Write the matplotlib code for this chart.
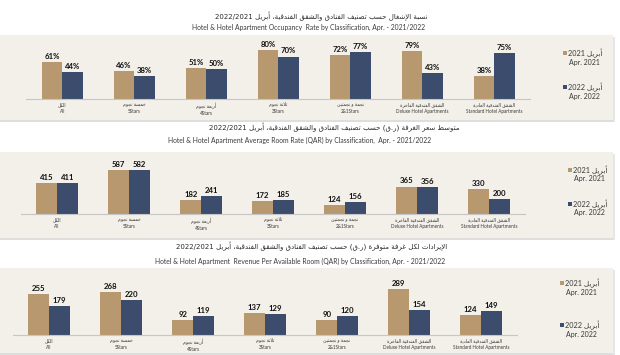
import re
import matplotlib
matplotlib.use("Agg")
import matplotlib.pyplot as plt
from matplotlib.patches import Rectangle

# ---- data ----
cats_ar = ['الكل', 'خمسة نجوم', 'أربعة نجوم', 'ثلاثة نجوم', 'نجمة و نجمتين',
           'الشقق الفندقية الفاخرة', 'الشقق الفندقية العادية']
cats_en = ['All', '5Stars', '4Stars', '3Stars', '2&1Stars',
           'Deluxe Hotel Apartments', 'Standard Hotel Apartments']

occ_2021 = [61, 46, 51, 80, 72, 79, 38]
occ_2022 = [44, 38, 50, 70, 77, 43, 75]
arr_2021 = [415, 587, 182, 172, 124, 365, 330]
arr_2022 = [411, 582, 241, 185, 156, 356, 200]
rev_2021 = [255, 268, 92, 137, 90, 289, 124]
rev_2022 = [179, 220, 119, 129, 120, 154, 149]

titles_ar = ['نسبة الإشغال حسب تصنيف الفنادق والشقق الفندقية، أبريل 2022/2021',
             'متوسط سعر الغرفة (ر.ق) حسب تصنيف الفنادق والشقق الفندقية، أبريل 2022/2021',
             'الإيرادات لكل غرفة متوفرة (ر.ق) حسب تصنيف الفنادق والشقق الفندقية، أبريل 2022/2021']
titles_en = ['Hotel & Hotel Apartment Occupancy  Rate by Classification, Apr. - 2021/2022',
             'Hotel & Hotel Apartment Average Room Rate (QAR) by Classification,  Apr. - 2021/2022',
             'Hotel & Hotel Apartment  Revenue Per Available Room (QAR) by Classification, Apr. - 2021/2022']
legend_ar = ['أبريل 2021', 'أبريل 2022']
legend_en = ['Apr. 2021', 'Apr. 2022']

# ---- minimal arabic shaping (matplotlib has no bidi/joining) ----
FORMS = {
    'ء': (0xFE80, 1), 'آ': (0xFE81, 2), 'أ': (0xFE83, 2), 'ؤ': (0xFE85, 2), 'إ': (0xFE87, 2),
    'ئ': (0xFE89, 4), 'ا': (0xFE8D, 2), 'ب': (0xFE8F, 4), 'ة': (0xFE93, 2), 'ت': (0xFE95, 4),
    'ث': (0xFE99, 4), 'ج': (0xFE9D, 4), 'ح': (0xFEA1, 4), 'خ': (0xFEA5, 4), 'د': (0xFEA9, 2),
    'ذ': (0xFEAB, 2), 'ر': (0xFEAD, 2), 'ز': (0xFEAF, 2), 'س': (0xFEB1, 4), 'ش': (0xFEB5, 4),
    'ص': (0xFEB9, 4), 'ض': (0xFEBD, 4), 'ط': (0xFEC1, 4), 'ظ': (0xFEC5, 4), 'ع': (0xFEC9, 4),
    'غ': (0xFECD, 4), 'ف': (0xFED1, 4), 'ق': (0xFED5, 4), 'ك': (0xFED9, 4), 'ل': (0xFEDD, 4),
    'م': (0xFEE1, 4), 'ن': (0xFEE5, 4), 'ه': (0xFEE9, 4), 'و': (0xFEED, 2), 'ى': (0xFEEF, 2),
    'ي': (0xFEF1, 4),
}
LAM_ALEF = {'ا': 0xFEFB, 'أ': 0xFEF7, 'إ': 0xFEF9, 'آ': 0xFEF5}


def ar(text):
	chars = []
	i = 0
	while i < len(text):
		if text[i] == 'ل' and i + 1 < len(text) and text[i+1] in LAM_ALEF:
			chars.append(('LA', text[i+1]))
			i += 2
		else:
			chars.append((text[i], None))
			i += 1
	out = []
	for k, (c, extra) in enumerate(chars):
		prev = chars[k-1][0] if k > 0 else None
		nxt = chars[k+1][0] if k + 1 < len(chars) else None
		jp = prev in FORMS and FORMS[prev][1] == 4
		if c == 'LA':
			out.append(chr(LAM_ALEF[extra] + (1 if jp else 0)))
			continue
		if c not in FORMS:
			out.append(c)
			continue
		base, n = FORMS[c]
		jp = jp and n > 1
		jn = n == 4 and (nxt == 'LA' or (nxt in FORMS and FORMS[nxt][1] > 1))
		if jp and jn:
			out.append(chr(base + 3))
		elif jp:
			out.append(chr(base + 1))
		elif jn:
			out.append(chr(base + 2))
		else:
			out.append(chr(base))
	vis = ''.join(out)[::-1]
	vis = re.sub(r'[0-9A-Za-z/&%]+', lambda m: m.group(0)[::-1], vis)
	return vis.translate(str.maketrans('()', ')('))


# ---- layout (pixels of the 620x355 picture) ----
W, H = 620, 355
tan = '#b8996f'
navy = '#3b4c6c'
band = '#f3f0ea'
txt = '#3a3a3a'
AR_FONT = ['DejaVu Sans']
EN_FONT = ['Lato', 'DejaVu Sans']

panels = [
	# ymax, px per unit, baseline y, left x, title (ar x, y, en x, y), band (top, bottom), legend x, legend y's, suffix
	(occ_2021, occ_2022, 100, 0.607, 99.0, 26.3, (321, 16.5, 308, 27.5), (35, 120), 563, (53, 62, 87, 96), '%'),
	(arr_2021, arr_2022, 650, 0.075, 213.9, 21.0, (334, 126.8, 300, 140.3), (152, 238), 568, (170, 178.5, 204, 212.5), ''),
	(rev_2021, rev_2022, 320, 0.158, 334.6, 13.0, (312, 246.5, 300, 261.0), (268, 353), 560, (283, 292, 325, 334), ''),
]

fig = plt.figure(figsize=(6.2, 3.55), dpi=100)
fig.patch.set_facecolor('white')

x = list(range(len(cats_en)))
labels = [ar(a) + '\n' + e for a, e in zip(cats_ar, cats_en)]
bw = 0.285

for p, (v1, v2, ymax, scale, base_y, left, tp, bnd, lx, ly, suf) in enumerate(panels):
	# beige band + thin shadow under / right of it (behind the axes)
	fig.patches.append(Rectangle((0, 1 - bnd[1]/H), 613/W, (bnd[1]-bnd[0])/H,
		transform=fig.transFigure, facecolor=band, edgecolor='none', zorder=-2))
	fig.patches.append(Rectangle((0, 1 - (bnd[1]+2)/H), 615/W, 2/H,
		transform=fig.transFigure, facecolor='#dedede', edgecolor='none', zorder=-2))
	fig.patches.append(Rectangle((613/W, 1 - (bnd[1]+2)/H), 2/W, (bnd[1]-bnd[0])/H,
		transform=fig.transFigure, facecolor='#e6e6e6', edgecolor='none', zorder=-2))

	fig.text(tp[0]/W, 1 - tp[1]/H, ar(titles_ar[p]), ha='center', va='center',
		fontsize=5.0, color='#2a2a2a', family=AR_FONT)
	fig.text(tp[2]/W, 1 - tp[3]/H, titles_en[p], ha='center', va='center',
		fontsize=4.9, color=txt, family=EN_FONT)

	hpx = ymax * scale
	ax = fig.add_axes([left/W, (H - base_y)/H, 504/W, hpx/H])
	ax.patch.set_alpha(0)
	b1 = ax.bar([i - bw/2 for i in x], v1, bw, color=tan)
	b2 = ax.bar([i + bw/2 for i in x], v2, bw, color=navy)
	for bars, vals in ((b1, v1), (b2, v2)):
		for r, v in zip(bars, vals):
			ax.annotate(f'{v}{suf}', (r.get_x() + r.get_width()/2, v), xytext=(0, 1.5),
				textcoords='offset points', ha='center', va='bottom',
				fontsize=5.6, fontweight='bold', color='#111111', family=EN_FONT)
	ax.set_xlim(-0.5, 6.5)
	ax.set_ylim(0, ymax)
	ax.set_yticks([])
	ax.set_xticks(x, labels, fontsize=3.3, color=txt, family=EN_FONT, linespacing=1.5)
	ax.tick_params(axis='x', length=0, pad=2.5)
	for s in ['top', 'left', 'right']:
		ax.spines[s].set_visible(False)
	ax.spines['bottom'].set_color('#c6c6c6')
	ax.spines['bottom'].set_linewidth(0.8)

	# legend: square, arabic label, english label under it
	for j, col in enumerate([tan, navy]):
		yy = ly[2*j]
		fig.patches.append(Rectangle((lx/W, 1 - (yy + 1.7)/H), 3.5/W, 3.5/H,
			transform=fig.transFigure, facecolor=col, edgecolor='none'))
		fig.text((lx + 5)/W, 1 - yy/H, ar(legend_ar[j]), ha='left', va='center',
			fontsize=5.2, color=txt, family=EN_FONT)
		fig.text((lx + 36.5)/W, 1 - ly[2*j+1]/H, legend_en[j], ha='right', va='center',
			fontsize=5, color=txt, family=EN_FONT)

fig.savefig('out.png', dpi=100)
